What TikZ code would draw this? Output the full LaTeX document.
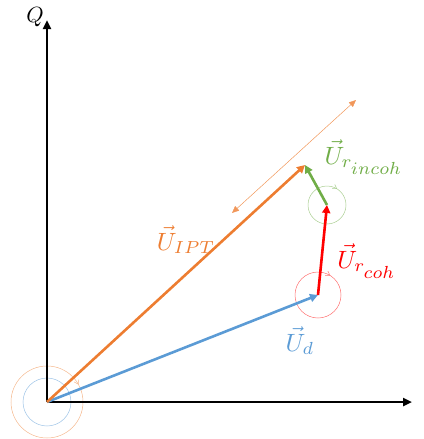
\documentclass[tikz,border=0pt]{standalone}
\usetikzlibrary{arrows.meta,decorations.markings}

\definecolor{vorange}{RGB}{237,125,49}
\definecolor{vblue}{RGB}{91,155,213}
\definecolor{vred}{RGB}{255,0,0}
\definecolor{vgreen}{RGB}{112,173,71}

\begin{document}
\begin{tikzpicture}[
  x=1pt, y=-1pt,
  axis/.style={line width=2.6pt, -{Triangle[length=9pt, width=8pt]}},
  vec/.style={line width=2.6pt, -{Triangle[length=8pt, width=8pt]}},
  ring/.style={line width=0.5pt},
  turn/.style={postaction={decorate}, decoration={markings,
      mark=at position #1 with {\arrow{Straight Barb[length=4pt, width=5pt]}}}},
  lbl/.style={scale=2.5, inner sep=0pt}
]
\useasboundingbox (0,0) rectangle (423,439);

\coordinate (O) at (47,402);
\coordinate (Qend) at (47,20);
\coordinate (Pend) at (412,402);
\coordinate (D) at (318,295);
\coordinate (R) at (327,205);
\coordinate (I) at (305,165);
\coordinate (tolA) at (232,213);
\coordinate (tolB) at (356,100);

% rings around the vector ends
\draw[ring, turn=0.92, vorange!55] (O) circle (36);
\draw[ring, vblue!60] (O) circle (24);
\draw[ring, turn=0.84, vred!55] (D) circle (23);
\draw[ring, turn=0.84, vgreen!60] (R) circle (19);

% axes
\draw[axis] (O) -- (Qend);
\draw[axis] (O) -- (Pend);
\node[scale=2.2] (qlab) at (35,17) {$Q$};
\node[scale=2.2] (plab) at (432,425) {$P$};

% tolerance band of the IPT voltage
\draw[vorange!80, line width=0.5pt, {Triangle[length=7pt, width=6pt]}-{Triangle[length=7pt, width=6pt]}] (tolA) -- (tolB);

% voltage vectors
\draw[vec, vblue] (O) -- (D);
\draw[vec, vred] (D) -- (R);
\draw[vec, vgreen] (R) -- (I);
\draw[vec, vorange] (O) -- (I);

\node[lbl, text=vorange] (uipt) at (186,240) {$\vec{U}_{\scriptstyle IPT}$};
\node[lbl, text=vblue] (ud) at (300,341) {$\vec{U}_{\scriptstyle d}$};
\node[lbl, text=vred] (ucoh) at (367,261) {$\vec{U}_{r_{\scriptstyle coh}}$};
\node[lbl, text=vgreen] (uincoh) at (364,157) {$\vec{U}_{r_{\scriptstyle incoh}}$};
\end{tikzpicture}
\end{document}
